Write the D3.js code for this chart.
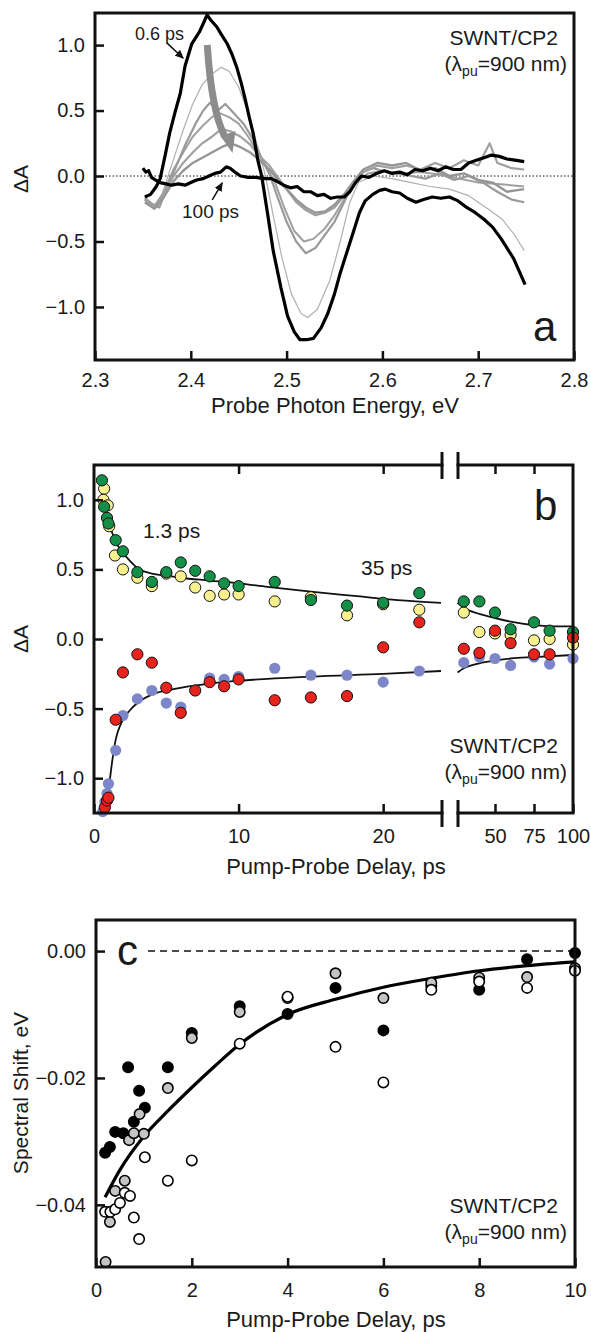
<!DOCTYPE html>
<html lang="en">
<head>
<meta charset="UTF-8">
<title>SWNT/CP2 transient absorption</title>
<script src="https://d3js.org/d3.v7.min.js"></script>
<style>
  body { margin: 0; background: #fff; }
  text { font-family: "Liberation Sans", Arial, sans-serif; fill: #1a1a1a; }
</style>
</head>
<body>
<script>
    // ---------- panel a : spectra (probe energy eV, dA) ----------
    const spec06 = [[2.352,-0.16],[2.358,-0.14],[2.364,-0.08],[2.368,-0.02],[2.373,0.15],[2.378,0.33],[2.384,0.5],[2.389,0.63],[2.394,0.84],[2.401,1.01],[2.409,1.1],[2.414,1.18],[2.417,1.23],[2.421,1.19],[2.427,1.14],[2.432,1.08],[2.438,1.01],[2.443,0.93],[2.448,0.83],[2.453,0.7],[2.457,0.58],[2.461,0.45],[2.465,0.33],[2.47,0.12],[2.474,0.0],[2.48,-0.28],[2.486,-0.57],[2.494,-0.85],[2.501,-1.07],[2.508,-1.19],[2.514,-1.25],[2.521,-1.25],[2.528,-1.24],[2.536,-1.16],[2.543,-1.05],[2.55,-0.9],[2.556,-0.74],[2.563,-0.58],[2.57,-0.42],[2.576,-0.28],[2.582,-0.19],[2.59,-0.14],[2.597,-0.11],[2.603,-0.1],[2.61,-0.12],[2.618,-0.13],[2.626,-0.17],[2.635,-0.2],[2.643,-0.18],[2.652,-0.16],[2.661,-0.17],[2.67,-0.16],[2.679,-0.19],[2.688,-0.24],[2.697,-0.28],[2.706,-0.33],[2.715,-0.39],[2.724,-0.48],[2.737,-0.63],[2.749,-0.83]];
    const spec100 = [[2.35,0.06],[2.353,0.03],[2.356,0.04],[2.359,-0.01],[2.363,-0.03],[2.368,-0.05],[2.374,-0.06],[2.38,-0.07],[2.387,-0.06],[2.394,-0.07],[2.4,-0.05],[2.406,-0.03],[2.413,-0.02],[2.419,0.0],[2.425,0.02],[2.431,0.03],[2.437,0.07],[2.441,0.06],[2.446,0.03],[2.452,0.0],[2.46,-0.01],[2.468,-0.01],[2.476,-0.02],[2.484,-0.02],[2.49,-0.04],[2.497,-0.07],[2.504,-0.09],[2.511,-0.08],[2.518,-0.12],[2.525,-0.12],[2.532,-0.15],[2.539,-0.14],[2.546,-0.17],[2.553,-0.16],[2.56,-0.16],[2.566,-0.12],[2.572,-0.05],[2.578,0.0],[2.586,-0.01],[2.594,0.02],[2.602,0.04],[2.61,0.02],[2.618,0.03],[2.626,0.01],[2.634,0.05],[2.642,0.04],[2.65,0.06],[2.658,0.04],[2.666,0.07],[2.674,0.05],[2.682,0.05],[2.69,0.1],[2.698,0.12],[2.706,0.14],[2.714,0.16],[2.722,0.15],[2.73,0.13],[2.74,0.12],[2.748,0.11]];
    // intermediate delays (thin = light grey, thick = mid grey)
    const specG1 = [[2.352,-0.16],[2.36,-0.21],[2.366,-0.22],[2.374,-0.05],[2.383,0.15],[2.392,0.35],[2.402,0.55],[2.412,0.7],[2.422,0.78],[2.432,0.83],[2.44,0.8],[2.45,0.68],[2.46,0.48],[2.47,0.22],[2.478,0.0],[2.486,-0.3],[2.495,-0.62],[2.505,-0.9],[2.515,-1.05],[2.522,-1.08],[2.532,-1.02],[2.545,-0.8],[2.556,-0.5],[2.566,-0.2],[2.575,-0.05],[2.59,0.0],[2.61,-0.02],[2.63,-0.05],[2.65,-0.08],[2.67,-0.1],[2.69,-0.15],[2.71,-0.25],[2.725,-0.33],[2.738,-0.45],[2.748,-0.57]];
    const specG2 = [[2.352,-0.18],[2.36,-0.22],[2.367,-0.24],[2.375,-0.1],[2.385,0.08],[2.395,0.25],[2.405,0.4],[2.413,0.5],[2.42,0.56],[2.428,0.5],[2.436,0.55],[2.445,0.48],[2.455,0.4],[2.465,0.28],[2.475,0.12],[2.483,0.0],[2.49,-0.15],[2.5,-0.35],[2.51,-0.5],[2.52,-0.59],[2.53,-0.55],[2.54,-0.45],[2.55,-0.35],[2.56,-0.2],[2.57,-0.05],[2.58,0.03],[2.59,0.06],[2.6,0.04],[2.615,0.02],[2.63,0.0],[2.645,-0.02],[2.66,0.02],[2.675,-0.03],[2.69,0.0],[2.705,-0.05],[2.72,-0.12],[2.735,-0.18],[2.748,-0.2]];
    const specG3 = [[2.352,-0.17],[2.362,-0.23],[2.372,-0.12],[2.382,0.05],[2.392,0.18],[2.402,0.3],[2.412,0.38],[2.422,0.45],[2.43,0.48],[2.44,0.45],[2.45,0.4],[2.46,0.3],[2.47,0.18],[2.48,0.05],[2.488,-0.05],[2.498,-0.25],[2.508,-0.42],[2.518,-0.5],[2.528,-0.48],[2.54,-0.4],[2.55,-0.3],[2.56,-0.18],[2.57,-0.06],[2.585,0.02],[2.6,0.04],[2.62,0.02],[2.64,0.03],[2.66,0.01],[2.68,-0.02],[2.7,-0.05],[2.72,-0.06],[2.748,-0.08]];
    const specG4 = [[2.352,-0.18],[2.362,-0.24],[2.372,-0.14],[2.382,0.0],[2.392,0.1],[2.402,0.18],[2.412,0.25],[2.422,0.3],[2.432,0.36],[2.442,0.34],[2.452,0.3],[2.462,0.24],[2.472,0.15],[2.482,0.08],[2.49,0.0],[2.5,-0.1],[2.51,-0.2],[2.52,-0.26],[2.53,-0.3],[2.54,-0.28],[2.55,-0.24],[2.56,-0.15],[2.57,-0.05],[2.58,0.03],[2.595,0.08],[2.61,0.06],[2.625,0.08],[2.64,0.05],[2.655,0.1],[2.67,0.06],[2.685,0.12],[2.7,0.08],[2.712,0.25],[2.72,0.1],[2.735,0.06],[2.748,0.05]];
    const specG5 = [[2.352,-0.2],[2.362,-0.25],[2.372,-0.16],[2.382,-0.04],[2.392,0.04],[2.402,0.1],[2.412,0.14],[2.422,0.18],[2.432,0.22],[2.442,0.25],[2.452,0.22],[2.462,0.18],[2.472,0.12],[2.482,0.05],[2.49,-0.02],[2.5,-0.1],[2.51,-0.18],[2.52,-0.24],[2.53,-0.28],[2.54,-0.27],[2.55,-0.22],[2.56,-0.14],[2.57,-0.04],[2.58,0.05],[2.595,0.1],[2.61,0.08],[2.625,0.1],[2.64,0.04],[2.655,0.06],[2.67,0.0],[2.685,0.02],[2.7,-0.03],[2.715,-0.05],[2.73,-0.12],[2.748,-0.1]];
    const ticksA_x = [2.3, 2.4, 2.5, 2.6, 2.7, 2.8];
    const ticksA_y = [-1.0, -0.5, 0.0, 0.5, 1.0];

    // ---------- panel b : kinetics (delay ps, dA) ----------
    const greenB  = [[0.55,1.14],[0.7,0.95],[0.9,0.87],[1.0,0.83],[1.5,0.71],[2,0.63],[3,0.48],[4,0.41],[5,0.48],[6,0.55],[7,0.49],[8,0.45],[9,0.40],[10,0.38],[12.5,0.41],[15,0.28],[17.5,0.24],[20,0.26],[22.5,0.33],[30,0.27],[40,0.27],[50,0.19],[60,0.07],[75,0.12],[85,0.06],[100,0.05]];
    const yellowB = [[0.65,1.0],[0.7,1.08],[0.95,0.96],[1.05,0.81],[1.45,0.60],[2,0.50],[3,0.44],[4,0.38],[5,0.47],[6,0.45],[7,0.37],[8,0.31],[9,0.32],[10,0.32],[12.5,0.27],[15,0.30],[17.5,0.17],[20,0.25],[22.5,0.21],[30,0.19],[40,0.05],[50,0.04],[60,0.03],[75,-0.01],[85,0.0],[100,-0.04]];
    const redB    = [[0.75,-1.21],[0.9,-1.16],[1.0,-1.14],[1.5,-0.58],[2,-0.24],[3,-0.11],[4,-0.17],[5,-0.35],[6,-0.53],[7,-0.37],[8,-0.31],[9,-0.34],[10,-0.29],[12.5,-0.44],[15,-0.42],[17.5,-0.41],[20,-0.06],[22.5,0.12],[30,-0.07],[40,-0.10],[50,0.06],[60,-0.03],[75,-0.11],[85,-0.11],[100,0.01]];
    const blueB   = [[0.6,-1.24],[0.75,-1.17],[0.9,-1.11],[1.0,-1.04],[1.5,-0.80],[2,-0.55],[3,-0.43],[4,-0.37],[5,-0.46],[6,-0.49],[7,-0.37],[8,-0.28],[9,-0.29],[10,-0.27],[12.5,-0.21],[15,-0.26],[17.5,-0.26],[20,-0.31],[22.5,-0.23],[30,-0.17],[40,-0.13],[50,-0.14],[60,-0.19],[75,-0.13],[85,-0.18],[100,-0.14]];
    const fitUpB  = [[0.9,0.88],[1.2,0.78],[1.5,0.70],[2,0.62],[2.5,0.56],[3,0.51],[4,0.47],[5,0.455],[6,0.44],[8,0.42],[10,0.40],[12,0.375],[15,0.34],[18,0.31],[21,0.28],[24,0.26],[26,0.26],[30,0.225],[40,0.18],[50,0.15],[60,0.125],[75,0.10],[90,0.09],[100,0.09]];
    const fitLowB = [[0.9,-1.21],[1.1,-1.01],[1.45,-0.75],[2,-0.58],[2.5,-0.51],[3,-0.46],[4,-0.40],[5.5,-0.36],[8,-0.32],[10,-0.30],[15,-0.27],[20,-0.25],[24,-0.23],[26,-0.24],[30,-0.21],[40,-0.175],[50,-0.155],[60,-0.14],[75,-0.13],[100,-0.115]];
    const ticksB_xL = [0, 10, 20];
    const ticksB_xR = [50, 75, 100];
    const ticksB_y = [-1.0, -0.5, 0.0, 0.5, 1.0];

    // ---------- panel c : spectral shift (delay ps, eV) ----------
    const blackC = [[0.19,-0.0318],[0.29,-0.0309],[0.4,-0.0285],[0.57,-0.0287],[0.67,-0.0183],[0.79,-0.0269],[0.9,-0.022],[1.02,-0.0247],[1.5,-0.0183],[2,-0.0129],[3,-0.0087],[4,-0.0099],[5,-0.0058],[6,-0.0125],[7,-0.0055],[8,-0.0061],[9,-0.0013],[10,-0.0003]];
    const grayC  = [[0.2,-0.049],[0.29,-0.0427],[0.4,-0.0378],[0.6,-0.0362],[0.69,-0.0298],[0.79,-0.0287],[0.91,-0.0257],[1.0,-0.0288],[1.5,-0.0216],[2,-0.0137],[3,-0.0096],[4,-0.0074],[5,-0.0035],[6,-0.0074],[7,-0.005],[8,-0.0042],[9,-0.0041],[10,-0.0027]];
    const whiteC = [[0.19,-0.0411],[0.3,-0.0411],[0.4,-0.0407],[0.5,-0.0397],[0.6,-0.0381],[0.71,-0.0386],[0.79,-0.042],[0.9,-0.0454],[1.02,-0.0325],[1.5,-0.0362],[2,-0.033],[3,-0.0146],[4,-0.0072],[5,-0.0151],[6,-0.0207],[7,-0.0061],[8,-0.0048],[9,-0.0058],[10,-0.0031]];
    const fitC   = [[0.19,-0.0388],[0.5,-0.0345],[1,-0.0292],[1.5,-0.0252],[2,-0.0215],[2.5,-0.018],[3,-0.0147],[4,-0.0100],[5,-0.0076],[6,-0.0057],[7,-0.0043],[8,-0.0031],[9,-0.0023],[10,-0.0017]];
    const ticksC_x = [0, 2, 4, 6, 8, 10];
    const ticksC_y = [-0.04, -0.02, 0.0];

    const svg = d3.select("body").append("svg")
        .attr("width", 591).attr("height", 1332);

    const defs = svg.append("defs");
    defs.append("marker").attr("id", "ah")
        .attr("markerUnits", "userSpaceOnUse")
        .attr("markerWidth", 9).attr("markerHeight", 8)
        .attr("refX", 8).attr("refY", 4).attr("orient", "auto")
        .append("path").attr("d", "M0,0 L9,4 L0,8 Z").attr("fill", "#111");

    const FS_TICK = 20, FS_XT = 22, FS_YT = 21;
    const minus = s => s.replace("-", "\u2212");

    function styleAxis(g) {
        g.select(".domain").remove();
        g.selectAll(".tick line").attr("stroke", "#111").attr("stroke-width", 2.5);
        g.selectAll(".tick text")
            .attr("font-size", FS_TICK)
            .attr("font-family", "Liberation Sans, Arial, sans-serif")
            .attr("fill", "#1a1a1a");
    }

    function swntLabel(xr, yb) {
        svg.append("text").attr("x", xr - 9).attr("y", yb)
            .attr("text-anchor", "end").attr("font-size", 21).text("SWNT/CP2");
        const t = svg.append("text").attr("x", xr).attr("y", yb + 26)
            .attr("text-anchor", "end").attr("font-size", 21);
        t.append("tspan").text("(\u03BB");
        t.append("tspan").attr("font-size", 14).attr("dy", 5).text("pu");
        t.append("tspan").attr("dy", -5).text("=900 nm)");
    }

    // ===================== PANEL A =====================
    const xA = d3.scaleLinear().domain([2.3, 2.8]).range([95, 574]);
    const yA = d3.scaleLinear().domain([-1.405, 1.245]).range([360, 13]);
    const lineA = d3.line().x(d => xA(d[0])).y(d => yA(d[1]));

    svg.append("line")
        .attr("x1", xA(2.3)).attr("x2", xA(2.8))
        .attr("y1", yA(0)).attr("y2", yA(0))
        .attr("stroke", "#111").attr("stroke-width", 1)
        .attr("stroke-dasharray", "1.5,2");

    const gA = svg.append("g");
    [[specG1, "#b0b0b0", 1.2], [specG3, "#a0a0a0", 2],
     [specG2, "#9a9a9a", 2.2], [specG4, "#a0a0a0", 2.2], [specG5, "#969696", 2.4]]
        .forEach(([d, c, w]) => {
            gA.append("path").datum(d).attr("d", lineA)
                .attr("fill", "none").attr("stroke", c).attr("stroke-width", w)
                .attr("stroke-linejoin", "round");
        });
    gA.append("path").datum(spec100).attr("d", lineA)
        .attr("fill", "none").attr("stroke", "#000").attr("stroke-width", 3.2)
        .attr("stroke-linejoin", "round");
    gA.append("path").datum(spec06).attr("d", lineA)
        .attr("fill", "none").attr("stroke", "#000").attr("stroke-width", 3.2)
        .attr("stroke-linejoin", "round");

    // big grey arrow showing the decay
    const p0 = [xA(2.4172), yA(1.0)], pc = [xA(2.4215), yA(0.5)], p1 = [xA(2.4355), yA(0.30)];
    svg.append("path")
        .attr("d", `M${p0[0]},${p0[1]} Q${pc[0]},${pc[1]} ${p1[0]},${p1[1]}`)
        .attr("fill", "none").attr("stroke", "#8c8c8c").attr("stroke-width", 7);
    const tip = [xA(2.4435), yA(0.176)];
    svg.append("path")
        .attr("d", `M${tip[0]},${tip[1]} L${tip[0] - 12},${tip[1] - 17} L${tip[0] + 3},${tip[1] - 22} Z`)
        .attr("fill", "#8c8c8c");

    svg.append("text").attr("x", 135).attr("y", 40).attr("font-size", 18).text("0.6 ps");
    svg.append("line")
        .attr("x1", xA(2.3753)).attr("y1", yA(1.015)).attr("x2", xA(2.392)).attr("y2", yA(0.9))
        .attr("stroke", "#111").attr("stroke-width", 1.5).attr("marker-end", "url(#ah)");
    svg.append("text").attr("x", 182).attr("y", 218).attr("font-size", 19).text("100 ps");
    svg.append("line")
        .attr("x1", xA(2.4224)).attr("y1", yA(-0.183)).attr("x2", xA(2.4328)).attr("y2", yA(-0.053))
        .attr("stroke", "#111").attr("stroke-width", 1.5).attr("marker-end", "url(#ah)");

    svg.append("g").attr("transform", "translate(0,360)")
        .call(d3.axisBottom(xA).tickValues(ticksA_x).tickSize(-9).tickPadding(13).tickFormat(d3.format(".1f")))
        .call(styleAxis);
    svg.append("g").attr("transform", "translate(95,0)")
        .call(d3.axisLeft(yA).tickValues(ticksA_y).tickSize(-9).tickPadding(10).tickFormat(d => minus(d.toFixed(1))))
        .call(styleAxis);
    svg.append("rect").attr("x", 95).attr("y", 13).attr("width", 479).attr("height", 347)
        .attr("fill", "none").attr("stroke", "#111").attr("stroke-width", 3);

    svg.append("text").attr("transform", "translate(28,179) rotate(-90)")
        .attr("text-anchor", "middle").attr("font-size", FS_YT).text("\u0394A");
    svg.append("text").attr("x", 335).attr("y", 413)
        .attr("text-anchor", "middle").attr("font-size", FS_XT).text("Probe Photon Energy, eV");
    svg.append("text").attr("x", 533).attr("y", 341).attr("font-size", 42).text("a");
    swntLabel(567, 45);

    // ===================== PANEL B =====================
    const xB1 = d3.scaleLinear().domain([0, 24]).range([94, 441]);
    const xB2 = d3.scaleLinear().domain([25, 100]).range([456, 573]);
    const xB = t => t <= 24.5 ? xB1(t) : xB2(t);
    const yB = d3.scaleLinear().domain([-1.25, 1.25]).range([813, 465]);
    const lineB = d3.line().x(d => xB(d[0])).y(d => yB(d[1])).curve(d3.curveMonotoneX);

    const gB = svg.append("g");
    [fitUpB, fitLowB].forEach(f => {
        gB.append("path").datum(f.filter(d => d[0] <= 24)).attr("d", lineB)
            .attr("fill", "none").attr("stroke", "#111").attr("stroke-width", 1.8);
        gB.append("path").datum(f.filter(d => d[0] > 24)).attr("d", lineB)
            .attr("fill", "none").attr("stroke", "#111").attr("stroke-width", 1.8);
    });
    [[yellowB, "#f7f08c", true], [greenB, "#138f47", true], [blueB, "#7d86c8", false], [redB, "#e8221d", true]]
        .forEach(([d, c, outline]) => {
            gB.selectAll(null).data(d).join("circle")
                .attr("cx", p => xB(p[0])).attr("cy", p => yB(p[1])).attr("r", 5.6)
                .attr("fill", c)
                .attr("stroke", outline ? "#111" : "none").attr("stroke-width", 1);
        });

    svg.append("g").attr("transform", "translate(0,813)")
        .call(d3.axisBottom(xB1).tickValues(ticksB_xL).tickSize(-9).tickPadding(16))
        .call(styleAxis);
    svg.append("g").attr("transform", "translate(0,813)")
        .call(d3.axisBottom(xB2).tickValues(ticksB_xR).tickSize(-9).tickPadding(16))
        .call(styleAxis);
    svg.append("g").attr("transform", "translate(0,465)")
        .call(d3.axisTop(xB1).tickValues([10, 20]).tickSize(-9).tickFormat(""))
        .call(styleAxis);
    svg.append("g").attr("transform", "translate(0,465)")
        .call(d3.axisTop(xB2).tickValues([50, 75]).tickSize(-9).tickFormat(""))
        .call(styleAxis);
    svg.append("g").attr("transform", "translate(94,0)")
        .call(d3.axisLeft(yB).tickValues(ticksB_y).tickSize(-9).tickPadding(10).tickFormat(d => minus(d.toFixed(1))))
        .call(styleAxis);
    svg.append("rect").attr("x", 94).attr("y", 465).attr("width", 479).attr("height", 348)
        .attr("fill", "none").attr("stroke", "#111").attr("stroke-width", 3);
    // axis break
    [465, 813].forEach(yy => {
        svg.append("rect").attr("x", 443.5).attr("y", yy - 3).attr("width", 13).attr("height", 6).attr("fill", "#fff");
        [442, 458].forEach(xx => {
            svg.append("line").attr("x1", xx).attr("x2", xx).attr("y1", yy - 13).attr("y2", yy + 14)
                .attr("stroke", "#111").attr("stroke-width", 3);
        });
    });

    svg.append("text").attr("transform", "translate(28,639) rotate(-90)")
        .attr("text-anchor", "middle").attr("font-size", FS_YT).text("\u0394A");
    svg.append("text").attr("x", 336).attr("y", 874)
        .attr("text-anchor", "middle").attr("font-size", FS_XT).text("Pump-Probe Delay, ps");
    svg.append("text").attr("x", 534).attr("y", 520).attr("font-size", 42).text("b");
    svg.append("text").attr("x", 143).attr("y", 538).attr("font-size", 21).text("1.3 ps");
    svg.append("text").attr("x", 361).attr("y", 575).attr("font-size", 21).text("35 ps");
    swntLabel(567, 753);

    // ===================== PANEL C =====================
    const xC = d3.scaleLinear().domain([0, 10]).range([96, 575]);
    const yC = d3.scaleLinear().domain([-0.0498, 0.0049]).range([1267, 920]);

    svg.append("line").attr("x1", 148).attr("x2", 575).attr("y1", yC(0)).attr("y2", yC(0))
        .attr("stroke", "#111").attr("stroke-width", 1.5).attr("stroke-dasharray", "7,5");
    svg.append("path").datum(fitC)
        .attr("d", d3.line().x(d => xC(d[0])).y(d => yC(d[1])).curve(d3.curveMonotoneX))
        .attr("fill", "none").attr("stroke", "#000").attr("stroke-width", 3.2);
    const gC = svg.append("g");
    [[blackC, "#000"], [grayC, "#c4c4c4"], [whiteC, "#fff"]].forEach(([d, c]) => {
        gC.selectAll(null).data(d).join("circle")
            .attr("cx", p => xC(p[0])).attr("cy", p => yC(p[1])).attr("r", 5.2)
            .attr("fill", c).attr("stroke", "#000").attr("stroke-width", 1.6);
    });

    svg.append("g").attr("transform", "translate(0,1267)")
        .call(d3.axisBottom(xC).tickValues(ticksC_x).tickSize(-9).tickPadding(16))
        .call(styleAxis);
    svg.append("g").attr("transform", "translate(96,0)")
        .call(d3.axisLeft(yC).tickValues(ticksC_y).tickSize(-9).tickPadding(10).tickFormat(d => minus(d.toFixed(2))))
        .call(styleAxis);
    svg.append("rect").attr("x", 96).attr("y", 920).attr("width", 479).attr("height", 347)
        .attr("fill", "none").attr("stroke", "#111").attr("stroke-width", 3);

    svg.append("text").attr("transform", "translate(28,1093) rotate(-90)")
        .attr("text-anchor", "middle").attr("font-size", FS_YT).text("Spectral Shift, eV");
    svg.append("text").attr("x", 336).attr("y", 1327)
        .attr("text-anchor", "middle").attr("font-size", FS_XT).text("Pump-Probe Delay, ps");
    svg.append("text").attr("x", 117).attr("y", 965).attr("font-size", 42).text("c");
    swntLabel(567, 1213);
</script>
</body>
</html>
